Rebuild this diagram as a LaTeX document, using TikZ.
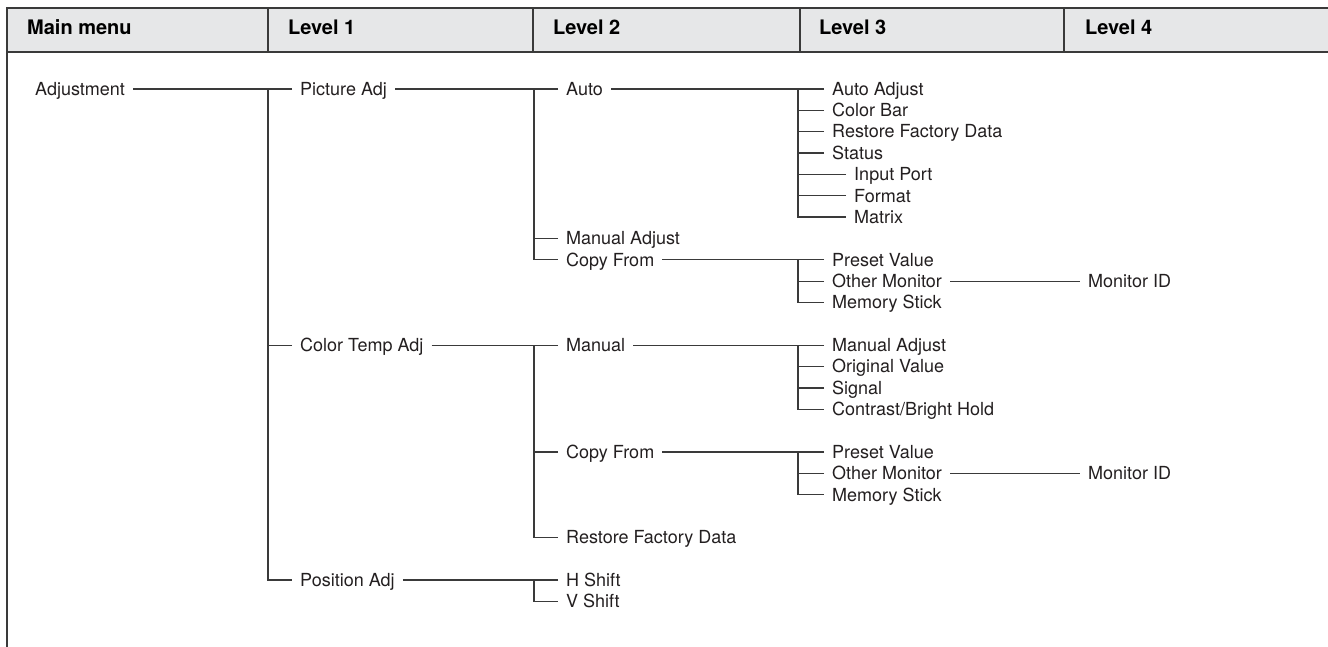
\documentclass[tikz,border=0pt]{standalone}
\usepackage{fontspec}
\setmainfont{TeX Gyre Heros}
\usepackage{tikz}
\usetikzlibrary{calc}

\definecolor{hdrgray}{HTML}{E6E7E8}
\definecolor{linegray}{HTML}{3A3A3A}
\definecolor{txtgray}{HTML}{231F20}

\begin{document}
\begin{tikzpicture}[x=1pt,y=-1pt,
		item/.style={anchor=west,inner xsep=8pt,inner ysep=0pt,text height=12.6pt,text depth=0pt,
			font=\fontsize{18}{21}\selectfont,text=txtgray},
		head/.style={anchor=base west,inner sep=0pt,font=\fontsize{20}{24}\selectfont\bfseries,text=black},
		tree/.style={draw=linegray,line width=1.2pt},
		frame/.style={draw=linegray,line width=1.5pt}]
		
		\useasboundingbox (0,0) rectangle (1328,647);
		
		% Header band
		\fill[hdrgray] (7,8) rectangle (1328,52);
		\draw[frame] (1328,8) -- (7,8) -- (7,647);
		\draw[frame] (7,52) -- (1328,52);
		\foreach \x in {268,533,800,1064} {
			\draw[frame] (\x,8) -- (\x,52);
		}
		\node[head] (hmain) at (27,35) {Main menu};
		\node[head] (hlvA) at (288,35) {Level 1};
		\node[head] (hlvB) at (553,35) {Level 2};
		\node[head] (hlvC) at (819,35) {Level 3};
		\node[head] (hlvD) at (1085,35) {Level 4};
		
		% Spine positions
		\coordinate (sp1) at (268,0);
		\coordinate (sp2) at (534,0);
		\coordinate (sp3) at (798,0);
		
		% Main menu and level 1
		\node[item] (adj) at (27,89) {Adjustment};
		\node[item] (picadj) at (292,89) {Picture Adj};
		\node[item] (ctadj) at (292,345.2) {Color Temp Adj};
		\node[item] (posadj) at (292,580) {Position Adj};
		
		% Level 2
		\node[item] (auto) at (558,89) {Auto};
		\node[item] (manadj) at (558,238.5) {Manual Adjust};
		\node[item] (copyA) at (558,259.8) {Copy From};
		\node[item] (manual) at (558,345.2) {Manual};
		\node[item] (copyB) at (558,452) {Copy From};
		\node[item] (restB) at (558,537.4) {Restore Factory Data};
		\node[item] (hshift) at (558,580) {H Shift};
		\node[item] (vshift) at (558,601.4) {V Shift};
		
		% Level 3
		\node[item] (autoadj) at (824,89) {Auto Adjust};
		\node[item] (colbar) at (824,110.4) {Color Bar};
		\node[item] (restA) at (824,131.7) {Restore Factory Data};
		\node[item] (status) at (824,153) {Status};
		\node[item] (inport) at (846,174.4) {Input Port};
		\node[item] (format) at (846,195.8) {Format};
		\node[item] (matrix) at (846,217.1) {Matrix};
		\node[item] (presetA) at (824,259.8) {Preset Value};
		\node[item] (otherA) at (824,281.2) {Other Monitor};
		\node[item] (memA) at (824,302.5) {Memory Stick};
		\node[item] (manadjB) at (824,345.2) {Manual Adjust};
		\node[item] (origval) at (824,366.6) {Original Value};
		\node[item] (signal) at (824,387.9) {Signal};
		\node[item] (contrast) at (824,409.3) {Contrast/Bright Hold};
		\node[item] (presetB) at (824,452) {Preset Value};
		\node[item] (otherB) at (824,473.3) {Other Monitor};
		\node[item] (memB) at (824,494.7) {Memory Stick};
		
		% Level 4
		\node[item] (monA) at (1080,281.2) {Monitor ID};
		\node[item] (monB) at (1080,473.3) {Monitor ID};
		
		% Branches
		\draw[tree] (adj.east) -- (adj.east -| sp1) |- (posadj.west);
		\draw[tree] (picadj.east) -- (picadj.east -| sp2) |- (copyA.west);
		\draw[tree] (ctadj.east) -- (ctadj.east -| sp2) |- (restB.west);
		\draw[tree] (posadj.east) -- (posadj.east -| sp2) |- (vshift.west);
		\draw[tree] (auto.east) -- (auto.east -| sp3) |- (matrix.west);
		\draw[tree] (copyA.east) -- (copyA.east -| sp3) |- (memA.west);
		\draw[tree] (manual.east) -- (manual.east -| sp3) |- (contrast.west);
		\draw[tree] (copyB.east) -- (copyB.east -| sp3) |- (memB.west);
		\draw[tree] (otherA.east) -- (monA.west);
		\draw[tree] (otherB.east) -- (monB.west);
		
		% Ticks off the spines
		\foreach \c in {picadj,ctadj} {
			\draw[tree] (\c.west) -- (\c.west -| sp1);
		}
		\foreach \c in {auto,manadj,manual,copyB,hshift} {
			\draw[tree] (\c.west) -- (\c.west -| sp2);
		}
		\foreach \c in {autoadj,colbar,restA,status,inport,format,presetA,otherA,manadjB,origval,signal,presetB,otherB} {
			\draw[tree] (\c.west) -- (\c.west -| sp3);
		}
		
	\end{tikzpicture}
\end{document}
